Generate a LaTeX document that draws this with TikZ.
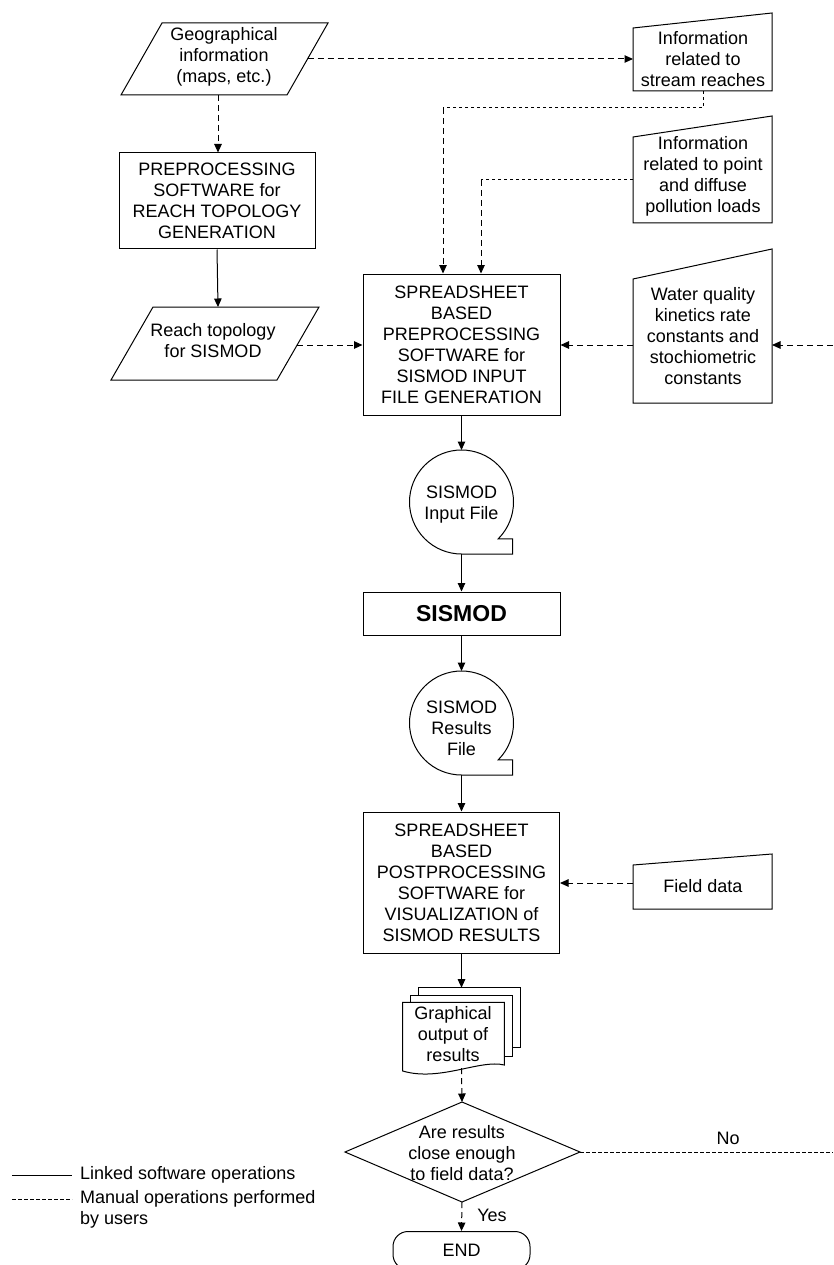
\documentclass[tikz,border=0pt]{standalone}
\usepackage{fontspec}
\setmainfont{Liberation Sans}
\usetikzlibrary{arrows.meta}
\begin{document}
\begin{tikzpicture}[x=1pt,y=-1pt,
  every node/.style={font=\fontsize{18}{21}\selectfont, align=center, inner sep=0pt},
  shp/.style={draw, line width=1pt, fill=white},
  solidarrow/.style={line width=1pt, -{Triangle[length=8.5pt,width=7.5pt]}},
  dasharrow/.style={solidarrow, dash pattern=on 6pt off 4pt},
  fineline/.style={line width=1pt, dash pattern=on 3.5pt off 2.5pt},
  plainline/.style={line width=1pt},
  boxnode/.style={shp, minimum width=#1},
]
\useasboundingbox (0,0) rectangle (833,1265);
\fill[white] (0,0) rectangle (833,1265);

% Geographical information
\draw[shp] (162,23) -- (328,23) -- (287,95) -- (121,95) -- cycle;
\node (geo) at (224,57) {Geographical\\information\\(maps, etc.)};
\coordinate (geoR) at (307.5,59);
\coordinate (geoB) at (218,95);

% Preprocessing box
\node[boxnode=196pt, minimum height=96pt] (pre) at (217,201) {PREPROCESSING\\SOFTWARE for\\REACH TOPOLOGY\\GENERATION};

% Reach topology
\draw[shp] (153,307) -- (319,307) -- (277,380) -- (111,380) -- cycle;
\node (reach) at (213,341) {Reach topology\\for SISMOD};
\coordinate (reachT) at (218,307);
\coordinate (reachR) at (297,345);

% Main spreadsheet box
\node[boxnode=197pt, minimum height=141pt] (main) at (461.5,344.5) {SPREADSHEET\\BASED\\PREPROCESSING\\SOFTWARE for\\SISMOD INPUT\\FILE GENERATION};

% Stream reaches
\draw[shp] (633,28) -- (772,13) -- (772,91) -- (633,91) -- cycle;
\node (stream) at (703,59) {Information\\related to\\stream reaches};
\coordinate (streamL) at (633,59);
\coordinate (streamB) at (703,91);
\coordinate (c1a) at (703,108);
\coordinate (c1) at (443,108);

% Point and diffuse
\draw[shp] (633,137) -- (772,116) -- (772,223) -- (633,223) -- cycle;
\node (point) at (703,176) {Information\\related to point\\and diffuse\\pollution loads};
\coordinate (pointL) at (633,180);
\coordinate (c2) at (481,180);

% Water quality
\draw[shp] (633,279) -- (772,249) -- (772,403) -- (633,403) -- cycle;
\node (water) at (703,336) {Water quality\\kinetics rate\\constants and\\stochiometric\\constants};
\coordinate (waterL) at (633,345);
\coordinate (waterR) at (772,345);
\coordinate (edgeW) at (833,345);

% SISMOD input file
\draw[shp] (498.27,538.77) arc[start angle=-45, end angle=270, radius=52pt] -- (512.5,554) -- (512.5,538.77) -- cycle;
\node (inF) at (461.5,505) {SISMOD\\Input File};
\coordinate (inT) at (461.5,450);
\coordinate (inB) at (461.5,554);

% SISMOD
\node[boxnode=197pt, minimum height=43pt, font=\fontsize{23}{26}\selectfont\bfseries] (sis) at (461.5,613.5) {SISMOD};

% SISMOD results file
\draw[shp] (498.27,759.77) arc[start angle=-45, end angle=270, radius=52pt] -- (512.5,775) -- (512.5,759.77) -- cycle;
\node (res) at (461.5,728) {SISMOD\\Results\\File};
\coordinate (resT) at (461.5,671);
\coordinate (resB) at (461.5,775);

% Postprocessing box
\node[boxnode=196pt, minimum height=141pt] (post) at (461.5,882.5) {SPREADSHEET\\BASED\\POSTPROCESSING\\SOFTWARE for\\VISUALIZATION of\\SISMOD RESULTS};

% Field data
\draw[shp] (633,865) -- (772,854) -- (772,909) -- (633,909) -- cycle;
\node (field) at (703,886) {Field data};
\coordinate (fieldL) at (633,883);

% Graphical output (multi document)
\draw[shp] (418.3,987.7) rectangle (520,1047.7);
\draw[shp] (410.7,995) rectangle (512.7,1056.7);
\draw[shp] (402.7,1002.3) -- (504.3,1002.3) -- (504.3,1065) .. controls (480,1059) and (440,1082) .. (402.7,1071) -- cycle;
\node (doc) at (453,1034) {Graphical\\output of\\results};
\coordinate (docT) at (461.5,987.7);
\coordinate (docB) at (461.5,1068);

% Decision diamond
\coordinate (diaT) at (462,1102);
\coordinate (diaR) at (580,1152);
\coordinate (diaB) at (462,1202);
\coordinate (diaL) at (345,1152);
\draw[shp] (diaT) -- (diaR) -- (diaB) -- (diaL) -- cycle;
\node (dia) at (462,1153) {Are results\\close enough\\to field data?};
\coordinate (edgeN) at (833,1152);
\node (no) at (728,1138) {No};
\node (yes) at (492,1215) {Yes};

% END terminal
\node[shp, rounded corners=15pt, minimum width=137pt, minimum height=38pt] (endn) at (461.5,1250.5) {END};

% Connectors
\draw[dasharrow] (geoR) -- (streamL);
\draw[dasharrow] (geoB) -- (geoB |- pre.north);
\draw[solidarrow] (pre.south) -- (reachT);
\draw[dasharrow] (reachR) -- (main.west |- reachR);
\draw[fineline] (streamB) -- (c1a) -- (c1);
\draw[dasharrow] (c1) -- (c1 |- main.north);
\draw[fineline] (pointL) -- (c2);
\draw[dasharrow] (c2) -- (c2 |- main.north);
\draw[dasharrow] (waterL) -- (main.east |- waterL);
\draw[dasharrow] (edgeW) -- (waterR);
\draw[solidarrow] (main.south) -- (inT);
\draw[solidarrow] (inB) -- (sis.north);
\draw[solidarrow] (sis.south) -- (resT);
\draw[solidarrow] (resB) -- (post.north);
\draw[dasharrow] (fieldL) -- (post.east |- fieldL);
\draw[solidarrow] (post.south) -- (docT);
\draw[dasharrow] (docB) -- (diaT);
\draw[fineline] (diaR) -- (edgeN);
\draw[dasharrow] (diaB) -- (endn.north);

% Legend
\coordinate (l1a) at (12,1175);
\coordinate (l1b) at (72,1175);
\draw[plainline] (l1a) -- (l1b);
\node[anchor=west] (lg1) at (80,1175) {Linked software operations};
\coordinate (l2a) at (12,1199);
\coordinate (l2b) at (72,1199);
\draw[fineline] (l2a) -- (l2b);
\node[anchor=west, align=left] (lg2) at (80,1209.5) {Manual operations performed\\by users};
\end{tikzpicture}
\end{document}
